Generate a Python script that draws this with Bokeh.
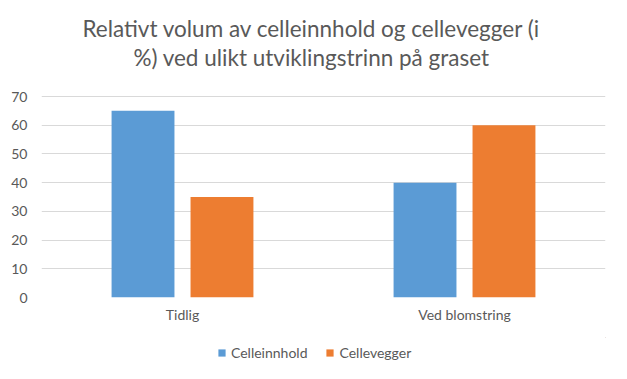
from bokeh.plotting import figure
from bokeh.models import (ColumnDataSource, FactorRange, Legend, LegendItem, Label,
                          FixedTicker, Range1d)
from bokeh.transform import dodge
from bokeh.layouts import column
from bokeh.embed import file_html
from bokeh.resources import INLINE

categories = ["Tidlig", "Ved blomstring"]
celleinnhold = [65, 40]
cellevegger = [35, 60]
series_names = ["Celleinnhold", "Cellevegger"]
colors = ["#5B9BD5", "#ED7D31"]
y_ticks = [0, 10, 20, 30, 40, 50, 60, 70]
title_lines = ["Relativt volum av celleinnhold og cellevegger (i", "%) ved ulikt utviklingstrinn på graset"]

FONT = "Lato"
TEXT = "#595959"

# layout (pixels)
PLOT_TOP_PX = 96          # pixel row of the top tick
ZERO_PX = 297             # pixel row of the zero line
px_per_unit = (ZERO_PX - PLOT_TOP_PX) / y_ticks[-1]
y_top = ZERO_PX / px_per_unit

src = ColumnDataSource(dict(cat=categories, a=celleinnhold, b=cellevegger))

p = figure(x_range=FactorRange(*categories, range_padding=0), y_range=Range1d(0, y_top),
           frame_width=564, frame_height=ZERO_PX, output_backend="svg", toolbar_location=None,
           min_border_left=41, min_border_right=14, min_border_bottom=40, min_border_top=0)

p.vbar(x=dodge("cat", -0.14, range=p.x_range), top="a", width=0.223, source=src,
       fill_color=colors[0], line_color=None)
p.vbar(x=dodge("cat", 0.14, range=p.x_range), top="b", width=0.223, source=src,
       fill_color=colors[1], line_color=None)

p.outline_line_color = None
p.background_fill_color = "white"
p.border_fill_color = "white"

p.yaxis.ticker = FixedTicker(ticks=y_ticks)
p.yaxis.axis_line_color = None
p.yaxis.major_tick_line_color = None
p.yaxis.minor_tick_line_color = None
p.yaxis.major_tick_out = 0
p.yaxis.minor_tick_out = 0
p.yaxis.major_label_text_font = FONT
p.yaxis.major_label_text_font_size = "14px"
p.yaxis.major_label_text_color = TEXT
p.yaxis.major_label_standoff = 14

p.xaxis.axis_line_color = None
p.xaxis.major_tick_line_color = None
p.xaxis.major_tick_out = 0
p.xaxis.minor_tick_out = 0
p.xaxis.major_label_text_font = FONT
p.xaxis.major_label_text_font_size = "14px"
p.xaxis.major_label_text_color = TEXT
p.xaxis.major_label_standoff = 8

p.xgrid.grid_line_color = None
p.ygrid.grid_line_color = "#D9D9D9"
p.ygrid.grid_line_width = 1

title_rows_px = [28, 57]
for line, row in zip(title_lines, title_rows_px):
    p.add_layout(Label(x=len(categories) / 2, y=(ZERO_PX - row) / px_per_unit, text=line,
                       x_offset=-12, text_align="center", text_baseline="middle",
                       text_font=FONT, text_font_size="22.5px", text_color=TEXT))

# legend strip (its renderers have zero area and lie outside the visible ranges)
lf = figure(width=619, height=30, output_backend="svg", toolbar_location=None,
            x_axis_location=None, y_axis_location=None,
            min_border_left=0, min_border_right=0, min_border_top=0, min_border_bottom=0,
            x_range=Range1d(0, 1), y_range=Range1d(-2, -1))
lf.outline_line_color = None
lf.grid.grid_line_color = None
d1 = lf.vbar(x="a", top="b", bottom="b", width=0, source=src, fill_color=colors[0], line_color=None)
d2 = lf.vbar(x="a", top="b", bottom="b", width=0, source=src, fill_color=colors[1], line_color=None)

legend = Legend(items=[LegendItem(label=series_names[0], renderers=[d1]),
                       LegendItem(label=series_names[1], renderers=[d2])],
                orientation="horizontal", location=(176, 6),
                label_text_font=FONT, label_text_font_size="14px", label_text_color=TEXT,
                glyph_width=9, glyph_height=9, label_standoff=5, spacing=18,
                label_height=18,
                border_line_color=None, background_fill_alpha=0, padding=0, margin=0)
lf.add_layout(legend, "center")

layout = column(p, lf, spacing=0)
open("out.html", "w").write(file_html(layout, INLINE))
